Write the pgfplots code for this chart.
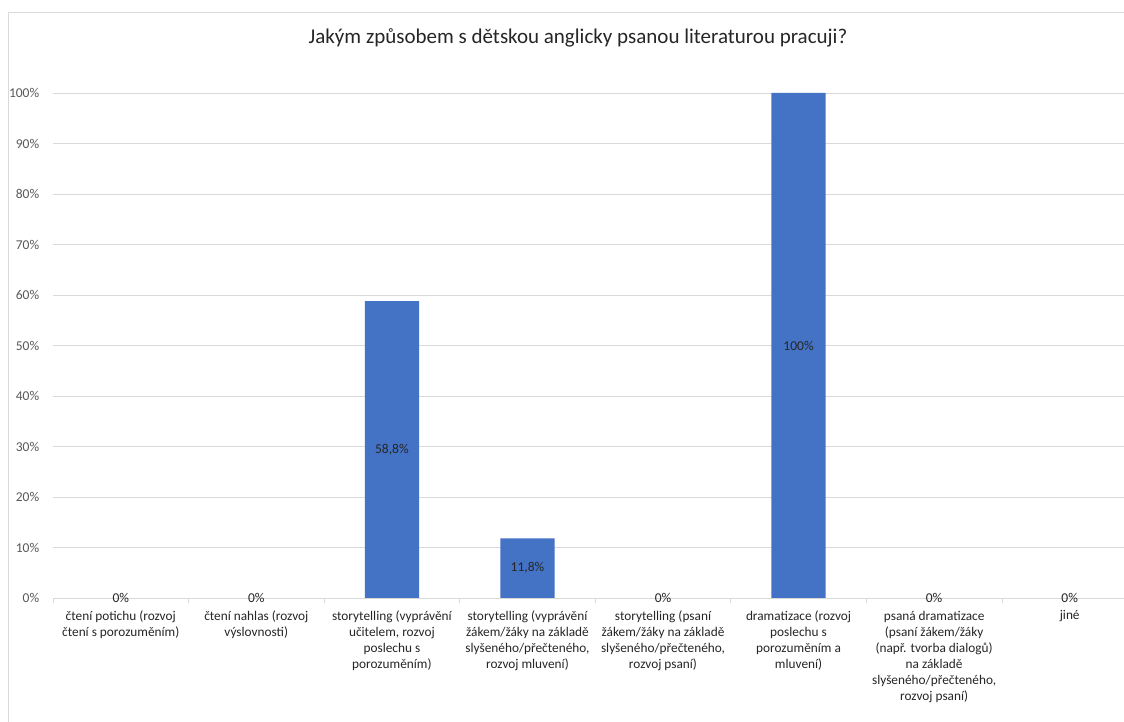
\documentclass[border=0pt]{standalone}
\usepackage{fontspec}
\setmainfont{Carlito}
\usepackage{pgfplots}
\pgfplotsset{compat=1.18}
\definecolor{barblue}{HTML}{4472C4}
\definecolor{gridgray}{HTML}{D9D9D9}
\definecolor{ticktext}{HTML}{595959}
\definecolor{cattext}{HTML}{262626}
\begin{document}
\begin{tikzpicture}[x=1pt,y=1pt]
\path[use as bounding box] (0,0) rectangle (1124,722);
\clip (0,0) rectangle (1124,722);
\fill[white] (0,0) rectangle (1124,722);
% chart frame
\draw[gridgray, line width=0.8pt] (8,-10) rectangle (1148,710);
% title
\node[font=\fontsize{21}{25}\selectfont, text=black!85] at (578,684)
  {Jakým způsobem s dětskou anglicky psanou literaturou pracuji?};
\begin{axis}[
  at={(53pt,124pt)}, anchor=south west,
  scale only axis, width=1071pt, height=505pt,
  xmin=0.5, xmax=8.4, ymin=0, ymax=100,
  axis lines*=left,
  separate axis lines,
  x axis line style={draw=gridgray, line width=0.8pt, -},
  y axis line style={draw=none},
  ytick={0,10,...,100},
  yticklabel={\pgfmathprintnumber{\tick}\%},
  ymajorgrids,
  grid style={draw=gridgray, line width=0.8pt},
  major y tick style={draw=none},
  y tick label style={text=ticktext, font=\fontsize{13.5}{16}\selectfont, xshift=-6pt},
  /pgf/number format/assume math mode=true,
  xtick={1,...,8},
  xticklabels={
    {čtení potichu (rozvoj\\čtení s porozuměním)},
    {čtení nahlas (rozvoj\\výslovnosti)},
    {storytelling (vyprávění\\učitelem, rozvoj\\poslechu s\\porozuměním)},
    {storytelling (vyprávění\\žákem/žáky na základě\\slyšeného/přečteného,\\rozvoj mluvení)},
    {storytelling (psaní\\žákem/žáky na základě\\slyšeného/přečteného,\\rozvoj psaní)},
    {dramatizace (rozvoj\\poslechu s\\porozuměním a\\mluvení)},
    {psaná dramatizace\\(psaní žákem/žáky\\(např. tvorba dialogů)\\na základě\\slyšeného/přečteného,\\rozvoj psaní)},
    {jiné}},
  x tick label style={align=center, text=cattext,
    font=\fontsize{13.3}{16}\selectfont, yshift=-5pt},
  major x tick style={draw=none},
  minor xtick={0.5,1.5,...,7.5},
  minor x tick style={draw=gridgray, line width=0.8pt},
  tick align=outside,
  minor tick length=5pt,
  clip=false,
]
% bars (zero-height bars are skipped so nothing is drawn on the axis)
\addplot[ybar, bar width=0.4, fill=barblue, draw=none,
  unbounded coords=discard,
  y filter/.expression={y==0 ? nan : y},
] table[row sep=\\] {x y\\ 1 0\\ 2 0\\ 3 58.8\\ 4 11.8\\ 5 0\\ 6 100\\ 7 0\\ 8 0\\};
% value labels, centred on each bar
\addplot[draw=none, mark=none,
  visualization depends on=rawy\as\rawy,
  nodes near coords={\pgfmathprintnumber[fixed,precision=1,use comma]{\pgfplotspointmeta}\%},
  every node near coord/.append style={anchor=center, text=cattext,
    font=\fontsize{13.5}{16}\selectfont, yshift={-2.525pt*\rawy}},
] table[row sep=\\] {x y\\ 1 0\\ 2 0\\ 3 58.8\\ 4 11.8\\ 5 0\\ 6 100\\ 7 0\\ 8 0\\};
\end{axis}
\end{tikzpicture}
\end{document}
